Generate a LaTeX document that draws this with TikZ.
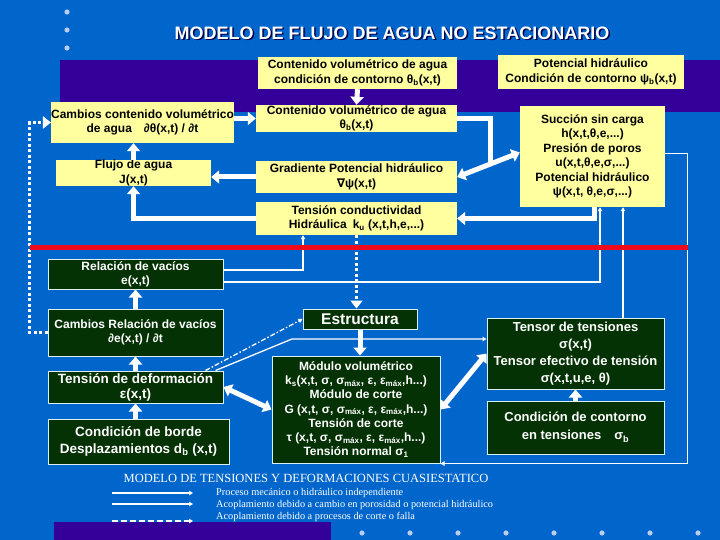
\documentclass[tikz,border=0pt]{standalone}
\usepackage{fontspec}
\setmainfont{Liberation Sans}
\newfontfamily\dvfont{DejaVu Sans}
\newfontfamily\legfont{Liberation Serif}
\usetikzlibrary{arrows.meta}
\definecolor{bgblue}{RGB}{0,102,204}
\definecolor{purp}{RGB}{51,0,153}
\definecolor{ybox}{RGB}{255,255,160}
\definecolor{gdark}{RGB}{5,50,5}
\definecolor{gline}{RGB}{215,240,240}
\definecolor{dotc}{RGB}{185,205,240}
\definecolor{redl}{RGB}{240,10,30}
\begin{document}
\begin{tikzpicture}[x=1pt,y=-1pt,
  yb/.style={fill=ybox, draw=none, inner sep=0pt, align=center, text=black,
    font=\bfseries\fontsize{12}{14.5}\selectfont},
  gb/.style={fill=gdark, draw=gline, line width=1pt, inner sep=0pt, align=center, text=white,
    font=\bfseries\fontsize{12}{14.3}\selectfont},
  warr/.style={draw=white, line width=5pt, -{Triangle[length=8pt,width=13pt]}},
  wline/.style={draw=white, line width=5pt},
  wdbl/.style={draw=white, line width=5pt, {Triangle[length=8pt,width=13pt]}-{Triangle[length=8pt,width=13pt]}},
  tarr/.style={draw=white, line width=1.3pt, -{Triangle[length=4pt,width=4.5pt]}},
  dotarr/.style={draw=white, line width=3.5pt, dash pattern=on 3pt off 2.5pt, -{Triangle[length=8pt,width=12pt]}},
  ddarr/.style={draw=white, line width=1.3pt, dash pattern=on 5pt off 2pt on 1.5pt off 2pt, -{Triangle[length=4pt,width=4.5pt]}},
  dotc/.style={fill=dotc, draw=none},
  legtext/.style={anchor=west, text=white, inner sep=0pt, font=\legfont\fontsize{10.3}{11}\selectfont}
]
\useasboundingbox (0,0) rectangle (720,540);
\fill[bgblue] (0,0) rectangle (720,540);
\fill[purp] (60,60) rectangle (720,112);
\fill[purp] (54,522) rectangle (331,540);
\foreach \yy in {12,30,48} \fill[dotc] (67,\yy) circle (2.6);
\foreach \xx in {362,410,458,506,554,602,650,698} \fill[dotc] (\xx,533) circle (2.6);

% title
\node[text=black!70!blue, font=\bfseries\fontsize{18}{20}\selectfont] at (393.5,34.5) {MODELO DE FLUJO DE AGUA NO ESTACIONARIO};
\node[text=white, font=\bfseries\fontsize{18}{20}\selectfont] (title) at (392,33) {MODELO DE FLUJO DE AGUA NO ESTACIONARIO};

% yellow boxes
\node[yb, minimum width=199, minimum height=32] (cc1) at (357.5,73) {Contenido volumétrico de agua\\condición de contorno θ\textsubscript{b}(x,t)};
\node[yb, minimum width=186, minimum height=34] (pb) at (591,72) {Potencial hidráulico\\Condición de contorno ψ\textsubscript{b}(x,t)};
\node[yb, minimum width=173, minimum height=41] (cca) at (142.5,122.5) {Cambios contenido volumétrico\\de agua\quad ∂θ(x,t) / ∂t};
\node[yb, minimum width=201, minimum height=27] (cvt) at (356.5,118.5) {Contenido volumétrico de agua\\θ\textsubscript{b}(x,t)};
\node[yb, minimum width=145, minimum height=101] (suc) at (592.5,156.5) {Succión sin carga\\h(x,t,θ,e,...)\\Presión de poros\\u(x,t,θ,e,σ,...)\\Potencial hidráulico\\ψ(x,t, θ,e,σ,...)};
\node[yb, minimum width=155, minimum height=26] (flu) at (133.5,173) {Flujo de agua\\J(x,t)};
\node[yb, minimum width=201, minimum height=32] (gra) at (356.5,177) {Gradiente Potencial hidráulico\\{\dvfont ∇}ψ(x,t)};
\node[yb, minimum width=201, minimum height=33] (tcd) at (356.5,218.5) {Tensión conductividad\\Hidráulica\enspace k\textsubscript{u} (x,t,h,e,...)};

% green boxes
\node[gb, minimum width=175, minimum height=30] (rel) at (135.5,274) {Relación de vacíos\\e(x,t)};
\node[gb, minimum width=175, minimum height=47] (crv) at (135.5,332.5) {Cambios Relación de vacíos\\∂e(x,t) / ∂t};
\node[gb, minimum width=175, minimum height=32, font=\bfseries\fontsize{13.5}{15}\selectfont] (tdf) at (135.5,387) {Tensión de deformación\\ε(x,t)};
\node[gb, minimum width=181, minimum height=45, font=\bfseries\fontsize{13.5}{17}\selectfont] (cbd) at (138.5,441.5) {Condición de borde\\Desplazamientos d\textsubscript{b} (x,t)};
\node[gb, minimum width=114, minimum height=20, font=\bfseries\fontsize{15.5}{17}\selectfont] (est) at (360,319) {Estructura};
\node[gb, minimum width=168, minimum height=107] (mod) at (356,409.5) {Módulo volumétrico\\k\textsubscript{s}(x,t, σ, σ\textsubscript{máx}, ε, ε\textsubscript{máx},h...)\\Módulo de corte\\G (x,t, σ, σ\textsubscript{máx}, ε, ε\textsubscript{máx},h...)\\Tensión de corte\\τ (x,t, σ, σ\textsubscript{máx}, ε, ε\textsubscript{máx},h...)\\Tensión normal σ\textsubscript{1}};
\node[gb, minimum width=177, minimum height=71, font=\bfseries\fontsize{13}{17}\selectfont] (ten) at (575.5,353.5) {Tensor de tensiones\\σ(x,t)\\Tensor efectivo de tensión\\σ(x,t,u,e, θ)};
\node[gb, minimum width=177, minimum height=53, font=\bfseries\fontsize{13}{18}\selectfont] (cct) at (575.5,427.5) {Condición de contorno\\en tensiones\quad σ\textsubscript{b}};

% water connectors
\draw[warr] (cc1.south) -- (cvt.north);
\draw[warr] (cca.east |- cvt.west) -- (cvt.west);
\coordinate (jn) at (490,164);
\draw[wline] (cvt.east) -| (jn);
\draw[wdbl] (gra.east) -- ([yshift=4pt]suc.west);
\draw[warr] ([xshift=2pt]suc.south) |- (tcd.east);
\draw[warr] (flu.north) -- (flu.north |- cca.south);
\draw[warr] (gra.west) -- (flu.east |- gra.west);
\draw[warr] (tcd.west) -| (flu.south);
\draw[dotarr] (crv.west) -- ++(-18,0) |- (cca.west);
\draw[dotarr] (tcd.south) -- (tcd.south |- est.north);

% thin connectors
\draw[tarr] ([yshift=4pt]rel.east) -| ([xshift=-53.5pt]tcd.south);
\draw[tarr] ([yshift=-8pt]rel.east) -| ([xshift=7.5pt]suc.south);
\draw[tarr] ([xshift=47.5pt]ten.north) -- ([xshift=47.5pt]ten.north |- suc.south);
\draw[tarr] ([yshift=3pt]suc.east) -- ++(22,0) |- (mod.south east);
\coordinate (k1) at (292,339);
\draw[tarr] ([xshift=-8pt]tdf.north east) -- (k1) -- (k1 -| ten.west);
\draw[ddarr] ([xshift=-18pt]tdf.north east) -- (est.west);

% structural connectors
\draw[warr] (est.south) -- (est.south |- mod.north);
\draw[wdbl] (tdf.east) -- (mod.west);
\draw[wdbl] (mod.east) -- (ten.west);
\draw[warr] (cct.north) -- (ten.south);
\draw[warr] (crv.north) -- (rel.south);
\draw[warr] (tdf.north) -- (crv.south);
\draw[warr] (tdf.south |- cbd.north) -- (tdf.south);

% red separator
\draw[redl, line width=5pt] (30,247.5) -- (688,247.5);

% legend
\node[text=white, font=\legfont\fontsize{12.5}{14}\selectfont] (lt) at (306,478) {MODELO DE TENSIONES Y DEFORMACIONES CUASIESTATICO};
\coordinate (la1) at (112,493); \coordinate (lb1) at (193,493);
\coordinate (la2) at (112,504); \coordinate (lb2) at (193,504);
\coordinate (la3) at (112,521); \coordinate (lb3) at (193,521);
\draw[draw=white, line width=1.6pt, -{Triangle[length=4pt,width=4.5pt]}] (la1) -- (lb1);
\draw[draw=white, line width=1.6pt, -{Triangle[length=4pt,width=4.5pt]}] (la2) -- (lb2);
\draw[draw=white, line width=2pt, dash pattern=on 6pt off 3pt, -{Triangle[length=4pt,width=4.5pt]}] (la3) -- (lb3);
\node[legtext] (l1) at (216,493) {Proceso mecánico o hidráulico independiente};
\node[legtext] (l2) at (216,505) {Acoplamiento debido a cambio en porosidad o potencial hidráulico};
\node[legtext] (l3) at (216,517) {Acoplamiento debido a procesos de corte o falla};
\end{tikzpicture}
\end{document}
